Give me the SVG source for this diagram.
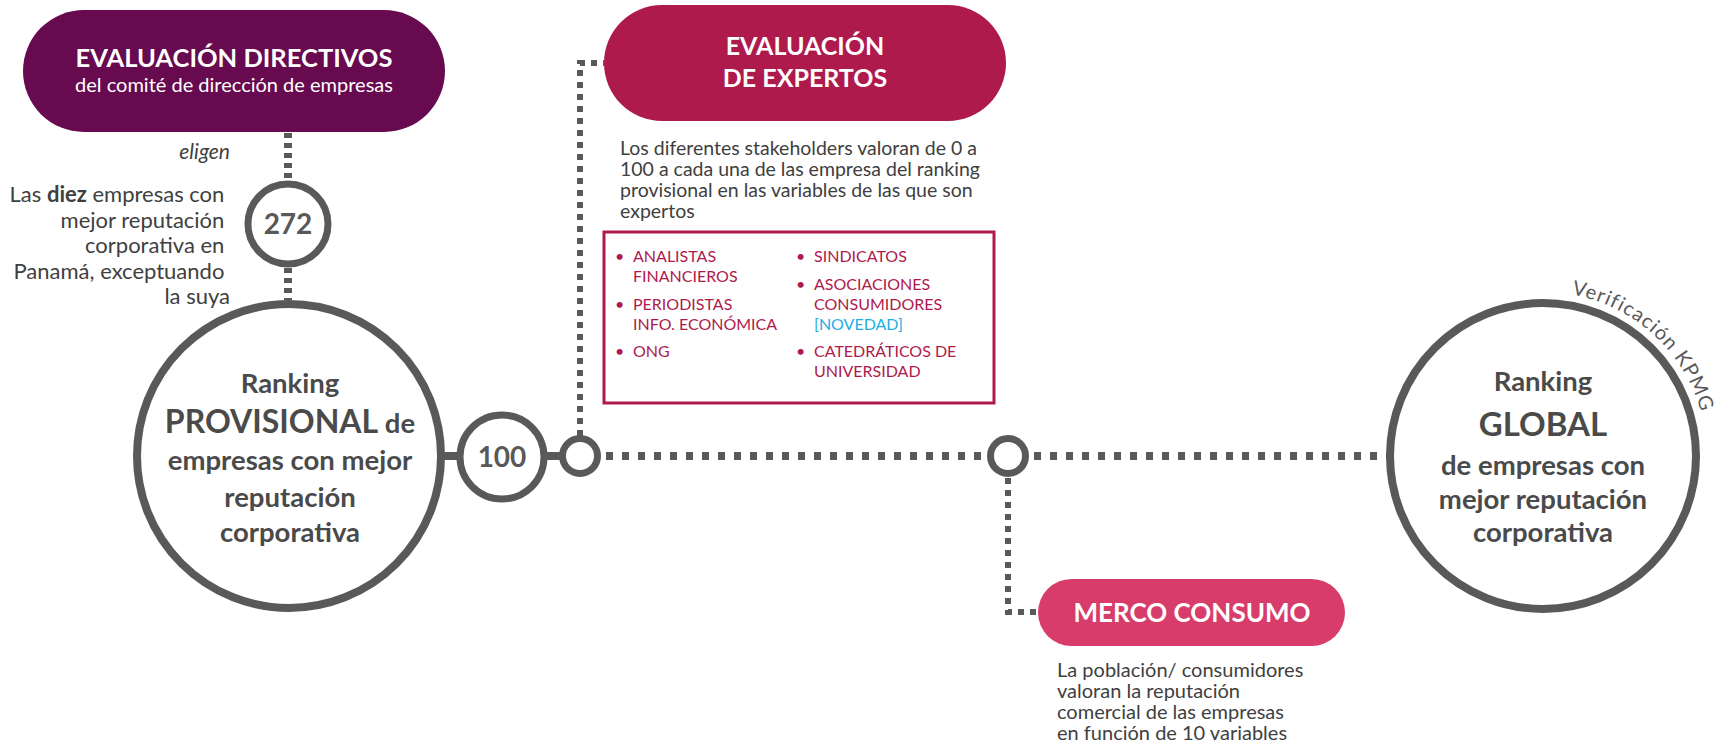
<svg xmlns="http://www.w3.org/2000/svg" width="1731" height="746" viewBox="0 0 1731 746">
<style>
.ring{fill:#fff;stroke:#595959;stroke-width:7}
.bigring{fill:#fff;stroke:#595959;stroke-width:8}
.dotH{fill:none;stroke:#595959;stroke-width:8;stroke-dasharray:7 9}
.dotS{fill:none;stroke:#595959;stroke-width:6;stroke-dasharray:6 6}
.dotV{fill:none;stroke:#595959;stroke-width:8;stroke-dasharray:5 5}
.solid{fill:none;stroke:#595959;stroke-width:8}
.t{font-family:Lato,"Open Sans","Liberation Sans",sans-serif;}
.w{fill:#fff;font-weight:bold}
.g{fill:#404040}
.gb{fill:#4a4a4a;font-weight:bold}
.num{fill:#595959;font-weight:bold;font-size:28px}
.li{fill:#ae1a4c;font-size:16px}
</style>
<rect width="1731" height="746" fill="#fff"/>

<g id="connectors">
  <path class="dotV" d="M288,133 V182"/>
  <path class="dotV" d="M288,268 V300"/>
  <path class="solid" d="M444,456 H460"/>
  <path class="solid" d="M544,456 H562"/>
  <path class="dotH" d="M606,456 H987"/>
  <path class="dotH" d="M1034,456 H1388"/>
  <path class="dotS" d="M580,436 V63 H604"/>
  <path class="dotS" d="M1008,478 V612 H1038"/>
</g>

<g id="evaluacion-directivos">
  <rect x="23" y="10" width="422" height="122" rx="61" fill="#670a4f"/>
  <text class="t w" x="234" y="67" font-size="25.5" text-anchor="middle">EVALUACIÓN DIRECTIVOS</text>
  <text class="t" x="234" y="92" font-size="20" fill="#fff" text-anchor="middle">del comité de dirección de empresas</text>
</g>

<g id="eligen-label">
  <text class="t g" x="230" y="159" font-size="21" font-style="italic" text-anchor="end">eligen</text>
  <text class="t g" font-size="22" text-anchor="end">
    <tspan x="230" y="202">Las <tspan font-weight="bold">diez</tspan> empresas con</tspan>
    <tspan x="230" y="228">mejor reputación</tspan>
    <tspan x="230" y="253">corporativa en</tspan>
    <tspan x="230" y="279">Panamá, exceptuando</tspan>
    <tspan x="230" y="304">la suya</tspan>
  </text>
</g>

<g id="node-272">
  <circle class="ring" cx="288" cy="224" r="40"/>
  <text class="t num" x="288" y="234" text-anchor="middle">272</text>
</g>

<g id="ranking-provisional">
  <circle class="bigring" cx="289" cy="456" r="152"/>
  <text class="t gb" x="290" y="393" font-size="27.5" text-anchor="middle">Ranking</text>
  <text class="t gb" x="290" y="433" font-size="27.5" text-anchor="middle"><tspan font-size="32">PROVISIONAL</tspan> de</text>
  <text class="t gb" x="290" y="470" font-size="27.5" text-anchor="middle">empresas con mejor</text>
  <text class="t gb" x="290" y="507" font-size="27.5" text-anchor="middle">reputación</text>
  <text class="t gb" x="290" y="542" font-size="27.5" text-anchor="middle">corporativa</text>
</g>

<g id="node-100">
  <circle class="ring" cx="502" cy="457" r="42"/>
  <text class="t num" x="502" y="467" text-anchor="middle">100</text>
</g>

<g id="junction-expertos">
  <circle class="ring" cx="580" cy="456" r="17.5"/>
</g>

<g id="evaluacion-expertos">
  <rect x="604" y="5" width="402" height="116" rx="58" fill="#ae1a4c"/>
  <text class="t w" x="805" y="55" font-size="25" text-anchor="middle">EVALUACIÓN</text>
  <text class="t w" x="805" y="87" font-size="25" text-anchor="middle">DE EXPERTOS</text>
  <text class="t g" font-size="19.5">
    <tspan x="620" y="155">Los diferentes stakeholders valoran de 0 a</tspan>
    <tspan x="620" y="176">100 a cada una de las empresa del ranking</tspan>
    <tspan x="620" y="197">provisional en las variables de las que son</tspan>
    <tspan x="620" y="218">expertos</tspan>
  </text>
</g>

<g id="stakeholders-box">
  <rect x="604" y="232" width="390" height="171" fill="#fff" stroke="#ae1a4c" stroke-width="3"/>
  <text class="t li">
    <tspan x="615" y="262">•</tspan><tspan x="633" y="262">ANALISTAS</tspan>
    <tspan x="633" y="282">FINANCIEROS</tspan>
    <tspan x="615" y="310">•</tspan><tspan x="633" y="310">PERIODISTAS</tspan>
    <tspan x="633" y="330">INFO. ECONÓMICA</tspan>
    <tspan x="615" y="357">•</tspan><tspan x="633" y="357">ONG</tspan>
    <tspan x="796" y="262">•</tspan><tspan x="814" y="262">SINDICATOS</tspan>
    <tspan x="796" y="290">•</tspan><tspan x="814" y="290">ASOCIACIONES</tspan>
    <tspan x="814" y="310">CONSUMIDORES</tspan>
    <tspan x="814" y="330" fill="#1eaee6">[NOVEDAD]</tspan>
    <tspan x="796" y="357">•</tspan><tspan x="814" y="357">CATEDRÁTICOS DE</tspan>
    <tspan x="814" y="377">UNIVERSIDAD</tspan>
  </text>
</g>

<g id="junction-consumo">
  <circle class="ring" cx="1008" cy="456" r="17.5"/>
</g>

<g id="merco-consumo">
  <rect x="1038" y="579" width="307" height="67" rx="33.5" fill="#d83c6b"/>
  <text class="t w" x="1192" y="622" font-size="26" text-anchor="middle">MERCO CONSUMO</text>
  <text class="t g" font-size="20">
    <tspan x="1057" y="677">La población/ consumidores</tspan>
    <tspan x="1057" y="698">valoran la reputación</tspan>
    <tspan x="1057" y="719">comercial de las empresas</tspan>
    <tspan x="1057" y="740">en función de 10 variables</tspan>
  </text>
</g>

<g id="ranking-global">
  <circle class="bigring" cx="1543" cy="456" r="153"/>
  <text class="t gb" x="1543" y="391" font-size="27.5" text-anchor="middle">Ranking</text>
  <text class="t gb" x="1543" y="436" font-size="33" text-anchor="middle">GLOBAL</text>
  <text class="t gb" x="1543" y="475" font-size="27.5" text-anchor="middle">de empresas con</text>
  <text class="t gb" x="1543" y="509" font-size="27.5" text-anchor="middle">mejor reputación</text>
  <text class="t gb" x="1543" y="542" font-size="27.5" text-anchor="middle">corporativa</text>
  <defs><path id="kpmgArc" d="M1571.5,294.5 A164,164 0 0 1 1706.4,441.7"/></defs>
  <text class="t" font-size="20" letter-spacing="1.1" fill="#595959"><textPath href="#kpmgArc">Verificación KPMG</textPath></text>
</g>
</svg>
